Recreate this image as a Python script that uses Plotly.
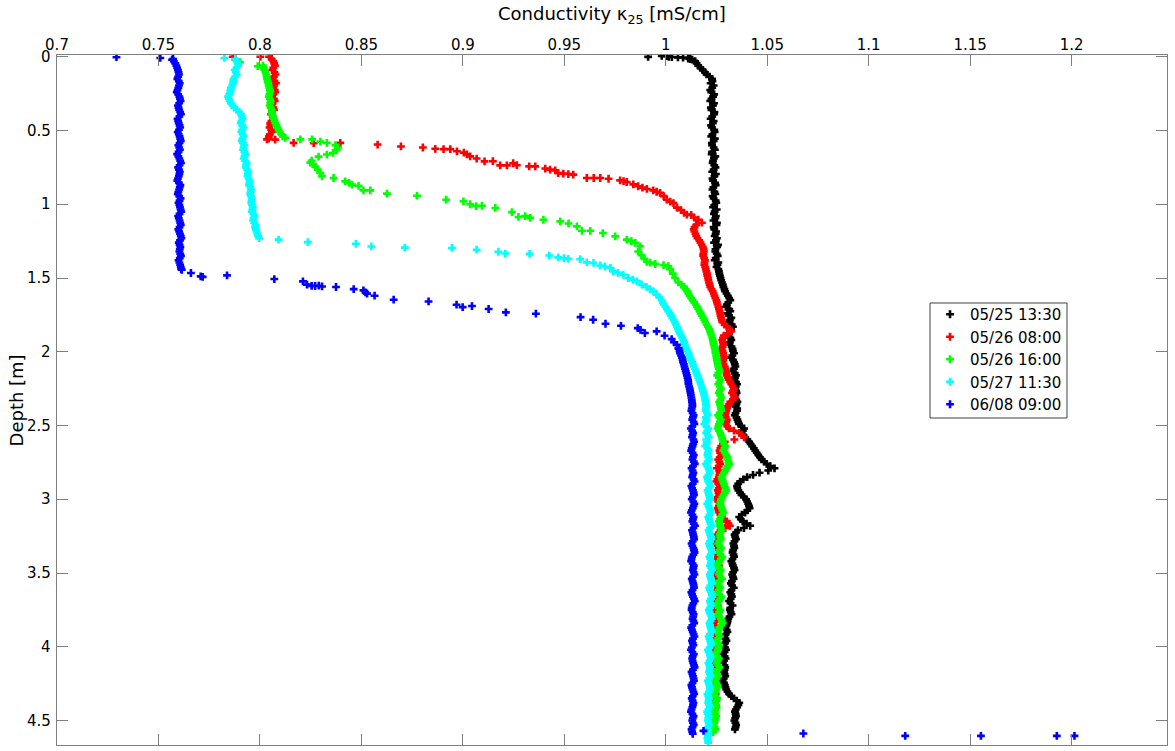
import plotly.graph_objects as go

# ---------------- data ----------------
series_names = ["05/25 13:30", "05/26 08:00", "05/26 16:00", "05/27 11:30", "06/08 09:00"]

# depth sampling [m] for the densely sampled parts of each profile
depth_grid = [
    0.00, 0.03, 0.06, 0.09, 0.12, 0.15, 0.18, 0.21, 0.24, 0.27,
    0.30, 0.33, 0.36, 0.39, 0.42, 0.45, 0.48, 0.51, 0.54, 0.57,
    0.60, 0.63, 0.66, 0.69, 0.72, 0.75, 0.78, 0.81, 0.84, 0.87,
    0.90, 0.93, 0.96, 0.99, 1.02, 1.05, 1.08, 1.11, 1.14, 1.17,
    1.20, 1.23, 1.26, 1.29, 1.32, 1.35, 1.38, 1.41, 1.44, 1.47,
    1.50, 1.53, 1.56, 1.59, 1.62, 1.65, 1.68, 1.71, 1.74, 1.77,
    1.80, 1.83, 1.86, 1.89, 1.92, 1.95, 1.98, 2.01, 2.04, 2.07,
    2.10, 2.13, 2.16, 2.19, 2.22, 2.25, 2.28, 2.31, 2.34, 2.37,
    2.40, 2.43, 2.46, 2.49, 2.52, 2.55, 2.58, 2.61, 2.64, 2.67,
    2.70, 2.73, 2.76, 2.79, 2.82, 2.85, 2.88, 2.91, 2.94, 2.97,
    3.00, 3.03, 3.06, 3.09, 3.12, 3.15, 3.18, 3.21, 3.24, 3.27,
    3.30, 3.33, 3.36, 3.39, 3.42, 3.45, 3.48, 3.51, 3.54, 3.57,
    3.60, 3.63, 3.66, 3.69, 3.72, 3.75, 3.78, 3.81, 3.84, 3.87,
    3.90, 3.93, 3.96, 3.99, 4.02, 4.05, 4.08, 4.11, 4.14, 4.17,
    4.20, 4.23, 4.26, 4.29, 4.32, 4.35, 4.38, 4.41, 4.44, 4.47,
    4.50, 4.53, 4.56, 4.59, 4.62, 4.65,
]
depth_grid_mid = [
    0.015, 0.045, 0.075, 0.105, 0.135, 0.165, 0.195, 0.225, 0.255, 0.285,
    0.315, 0.345, 0.375, 0.405, 0.435, 0.465, 0.495, 0.525, 0.555, 0.585,
    0.615, 0.645, 0.675, 0.705, 0.735, 0.765, 0.795, 0.825, 0.855, 0.885,
    0.915, 0.945, 0.975, 1.005, 1.035, 1.065, 1.095, 1.125, 1.155, 1.185,
    1.215, 1.245, 1.275, 1.305, 1.335, 1.365, 1.395, 1.425, 1.455, 1.485,
    1.515, 1.545, 1.575, 1.605, 1.635, 1.665, 1.695, 1.725, 1.755, 1.785,
    1.815, 1.845, 1.875, 1.905, 1.935, 1.965, 1.995, 2.025, 2.055, 2.085,
    2.115, 2.145, 2.175, 2.205, 2.235, 2.265, 2.295, 2.325, 2.355, 2.385,
    2.415, 2.445, 2.475, 2.505, 2.535, 2.565, 2.595, 2.625, 2.655, 2.685,
    2.715, 2.745, 2.775, 2.805, 2.835, 2.865, 2.895, 2.925, 2.955, 2.985,
    3.015, 3.045, 3.075, 3.105, 3.135, 3.165, 3.195, 3.225, 3.255, 3.285,
    3.315, 3.345, 3.375, 3.405, 3.435, 3.465, 3.495, 3.525, 3.555, 3.585,
    3.615, 3.645, 3.675, 3.705, 3.735, 3.765, 3.795, 3.825, 3.855, 3.885,
    3.915, 3.945, 3.975, 4.005, 4.035, 4.065, 4.095, 4.125, 4.155, 4.185,
    4.215, 4.245, 4.275, 4.305, 4.335, 4.365, 4.395, 4.425, 4.455, 4.485,
    4.515, 4.545, 4.575, 4.605, 4.635, 4.665,
]

N = None

# ---- 05/25 13:30 (black) ----
black_grid = [
    1.0015, 1.0145, 1.0160, 1.0182, 1.0201, 1.0228, 1.0221, 1.0229, 1.0224, 1.0233,
    1.0219, 1.0233, 1.0225, 1.0238, 1.0221, 1.0232, 1.0227, 1.0241, 1.0224, 1.0236,
    1.0228, 1.0242, 1.0226, 1.0237, 1.0231, 1.0245, 1.0229, 1.0240, 1.0233, 1.0246,
    1.0230, 1.0244, 1.0236, 1.0249, 1.0233, 1.0241, 1.0247, 1.0235, 1.0250, 1.0239,
    1.0246, 1.0252, 1.0238, 1.0253, 1.0244, 1.0256, 1.0241, 1.0255, 1.0259, 1.0264,
    1.0270, 1.0277, 1.0284, 1.0292, 1.0306, 1.0318, 1.0301, 1.0313, 1.0305, 1.0323,
    1.0314, 1.0331, 1.0318, 1.0310, 1.0323, 1.0314, 1.0329, 1.0336, 1.0322, 1.0337,
    1.0343, 1.0330, 1.0346, 1.0338, 1.0351, 1.0342, 1.0349, 1.0338, 1.0353, 1.0345,
    1.0351, 1.0340, 1.0353, 1.0361, 1.0386, 1.0374, 1.0391, 1.0411, 1.0426, 1.0441,
    1.0456, 1.0472, 1.0497, 1.0536, 1.0462, 1.0401, 1.0366, 1.0351, 1.0358, 1.0373,
    1.0396, 1.0406, 1.0413, 1.0391, 1.0362, 1.0379, 1.0416, 1.0356, 1.0339, 1.0346,
    1.0333, 1.0338, 1.0329, 1.0337, 1.0323, 1.0331, 1.0339, 1.0327, 1.0334, 1.0321,
    1.0335, 1.0318, 1.0326, 1.0312, 1.0329, 1.0316, 1.0324, 1.0308, 1.0303, 1.0294,
    1.0304, 1.0289, 1.0299, 1.0285, 1.0297, 1.0283, 1.0295, 1.0281, 1.0293, 1.0287,
    1.0293, 1.0280, 1.0291, 1.0298, 1.0312, 1.0336, 1.0362, 1.0352, 1.0341, 1.0346,
    1.0338, 1.0347, 1.0341, N, N, N,
]
black_grid_mid = [
    1.0120, 1.0152, 1.0171, 1.0193, 1.0216, 1.0230, 1.0236, 1.0219, 1.0238, 1.0225,
    1.0238, 1.0222, 1.0240, 1.0229, 1.0236, 1.0223, 1.0239, 1.0230, 1.0242, 1.0227,
    1.0236, 1.0228, 1.0244, 1.0233, 1.0239, 1.0236, 1.0247, 1.0230, 1.0243, 1.0235,
    1.0240, 1.0231, 1.0246, 1.0239, 1.0251, 1.0237, 1.0244, 1.0252, 1.0236, 1.0248,
    1.0241, 1.0247, 1.0258, 1.0245, 1.0251, 1.0246, 1.0259, 1.0250, 1.0262, 1.0267,
    1.0273, 1.0281, 1.0289, 1.0299, 1.0312, 1.0308, 1.0296, 1.0318, 1.0311, 1.0316,
    1.0325, 1.0322, 1.0312, 1.0318, 1.0316, 1.0324, 1.0331, 1.0328, 1.0331, 1.0340,
    1.0336, 1.0340, 1.0341, 1.0346, 1.0345, 1.0347, 1.0343, 1.0347, 1.0348, 1.0352,
    1.0344, 1.0348, 1.0357, 1.0372, 1.0380, 1.0383, 1.0402, 1.0418, 1.0434, 1.0448,
    1.0464, 1.0485, 1.0515, 1.0505, 1.0430, 1.0382, 1.0357, 1.0353, 1.0366, 1.0385,
    1.0401, 1.0410, 1.0402, 1.0375, 1.0370, 1.0398, 1.0385, 1.0346, 1.0342, 1.0339,
    1.0336, 1.0332, 1.0334, 1.0329, 1.0328, 1.0336, 1.0332, 1.0331, 1.0326, 1.0327,
    1.0324, 1.0323, 1.0320, 1.0319, 1.0318, 1.0320, 1.0314, 1.0305, 1.0299, 1.0300,
    1.0296, 1.0294, 1.0292, 1.0292, 1.0290, 1.0290, 1.0287, 1.0289, 1.0290, 1.0290,
    1.0286, 1.0287, 1.0294, 1.0304, 1.0323, 1.0350, 1.0358, 1.0345, 1.0344, 1.0342,
    1.0343, 1.0344, N, N, N, N,
]
black_extra_depth = [0.001, -0.006, -0.004, 0.002, 0.004, 0.006, 0.012, 0.020]
black_extra_kappa = [0.9913, 0.9980, 1.0005, 1.0030, 1.0060, 1.0085, 1.0110, 1.0130]

# ---- 05/26 08:00 (red) ----
red_grid = [
    0.8045, 0.8066, 0.8074, 0.8061, 0.8077, 0.8063, 0.8079, 0.8065, 0.8075, 0.8060,
    0.8073, 0.8058, 0.8069, 0.8055, 0.8066, 0.8051, 0.8047, 0.8059, 0.8044, N,
    N, N, N, N, N, N, N, N, N, N,
    N, N, N, N, N, N, N, N, 1.0150, 1.0138,
    1.0146, 1.0156, 1.0171, 1.0183, 1.0188, 1.0184, 1.0193, 1.0190, 1.0197, 1.0203,
    1.0208, 1.0213, 1.0219, 1.0231, 1.0240, 1.0249, 1.0255, 1.0262, 1.0268, 1.0273,
    1.0279, 1.0301, 1.0323, 1.0286, 1.0278, 1.0284, 1.0276, 1.0283, 1.0287, 1.0280,
    1.0291, 1.0297, 1.0301, 1.0311, 1.0323, 1.0336, 1.0326, 1.0341, 1.0318, 1.0306,
    1.0298, 1.0292, 1.0301, 1.0295, 1.0311, 1.0362, 1.0386, 1.0291, 1.0273, 1.0265,
    1.0274, 1.0258, 1.0269, 1.0252, 1.0266, 1.0261, 1.0249, 1.0267, 1.0256, 1.0263,
    1.0250, 1.0266, 1.0257, 1.0263, 1.0275, 1.0301, 1.0316, 1.0270, 1.0255, 1.0262,
    1.0249, 1.0260, 1.0243, 1.0257, 1.0251, 1.0262, 1.0246, 1.0255, 1.0240, 1.0253,
    1.0258, 1.0244, 1.0252, 1.0238, 1.0256, 1.0247, 1.0241, 1.0254, 1.0236, 1.0249,
    1.0243, 1.0255, 1.0238, 1.0250, 1.0244, 1.0235, 1.0252, 1.0241, 1.0247, 1.0233,
    1.0249, 1.0238, 1.0244, 1.0231, 1.0246, 1.0240, 1.0235, 1.0248, 1.0232, 1.0241,
    1.0236, 1.0229, N, N, N, N,
]
red_grid_mid = [
    0.8058, 0.8070, 0.8066, 0.8072, 0.8069, 0.8072, 0.8070, 0.8073, 0.8066, 0.8069,
    0.8063, 0.8066, 0.8060, 0.8063, 0.8057, 0.8052, 0.8055, 0.8049, 0.8043, N,
    N, N, N, N, N, N, N, N, N, N,
    N, N, N, N, N, N, N, N, 1.0142, 1.0141,
    1.0150, 1.0165, 1.0177, 1.0186, 1.0185, 1.0189, 1.0191, 1.0194, 1.0200, 1.0205,
    1.0210, 1.0216, 1.0225, 1.0236, 1.0244, 1.0252, 1.0259, 1.0265, 1.0270, 1.0276,
    1.0290, 1.0314, 1.0305, 1.0282, 1.0281, 1.0280, 1.0280, 1.0285, 1.0283, 1.0285,
    1.0294, 1.0299, 1.0306, 1.0317, 1.0330, 1.0331, 1.0334, 1.0330, 1.0312, 1.0302,
    1.0295, 1.0296, 1.0298, 1.0303, 1.0336, 1.0375, 1.0338, 1.0282, 1.0269, 1.0268,
    1.0266, 1.0264, 1.0261, 1.0263, 1.0264, 1.0254, 1.0258, 1.0262, 1.0260, 1.0256,
    1.0258, 1.0262, 1.0260, 1.0269, 1.0288, 1.0309, 1.0293, 1.0262, 1.0258, 1.0255,
    1.0254, 1.0251, 1.0250, 1.0254, 1.0256, 1.0254, 1.0250, 1.0248, 1.0246, 1.0256,
    1.0251, 1.0248, 1.0245, 1.0247, 1.0251, 1.0244, 1.0247, 1.0245, 1.0242, 1.0246,
    1.0249, 1.0246, 1.0244, 1.0247, 1.0240, 1.0243, 1.0247, 1.0244, 1.0240, 1.0241,
    1.0243, 1.0241, 1.0237, 1.0239, 1.0243, 1.0237, 1.0241, 1.0240, 1.0236, 1.0238,
    1.0233, N, N, N, N, N,
]
red_extra_depth = [
    0.000, 0.000, 0.560, 0.562,
    0.584, 0.586, 0.584, 0.595, 0.608, 0.615, 0.624, 0.626, 0.626, 0.641,
    0.650, 0.662, 0.675, 0.690, 0.709, 0.708, 0.736, 0.736, 0.722, 0.735,
    0.743, 0.743, 0.758, 0.765, 0.770, 0.788, 0.792, 0.795, 0.799, 0.822,
    0.822, 0.822, 0.827, 0.838, 0.843, 0.849, 0.865, 0.878, 0.887, 0.896,
    0.906, 0.915, 0.923, 0.945, 0.969, 0.982, 0.992, 1.023, 1.040, 1.058,
    1.070, 1.072, 1.090, 1.105, 1.125,
]
red_extra_kappa = [
    0.7866, 0.8002, 0.8035, 0.8075,
    0.8166, 0.8265, 0.8396, 0.8580, 0.8695, 0.8803, 0.8864, 0.8905, 0.8938, 0.8971,
    0.9005, 0.9020, 0.9036, 0.9068, 0.9107, 0.9148, 0.9184, 0.9217, 0.9248, 0.9266,
    0.9327, 0.9357, 0.9406, 0.9430, 0.9455, 0.9470, 0.9495, 0.9520, 0.9544, 0.9611,
    0.9645, 0.9677, 0.9718, 0.9775, 0.9792, 0.9808, 0.9840, 0.9864, 0.9885, 0.9907,
    0.9938, 0.9955, 0.9972, 0.9990, 1.0005, 1.0022, 1.0038, 1.0055, 1.0075, 1.0090,
    1.0104, 1.0125, 1.0140, 1.0160, 1.0178,
]

# ---- 05/26 16:00 (green) ----
green_grid = [
    N, N, 0.8015, 0.8022, 0.8031, 0.8035, 0.8041, 0.8046, 0.8051, 0.8044,
    0.8053, 0.8048, 0.8058, 0.8061, 0.8068, 0.8076, 0.8087, 0.8098, 0.8112, N,
    N, N, N, N, N, N, N, N, N, N,
    N, N, N, N, N, N, N, N, N, N,
    N, N, N, N, N, N, N, N, N, N,
    N, N, 1.0090, 1.0105, 1.0118, 1.0132, 1.0148, 1.0160, 1.0172, 1.0185,
    1.0195, 1.0208, 1.0218, 1.0225, 1.0232, 1.0236, 1.0242, 1.0245, 1.0250, 1.0254,
    1.0258, 1.0266, 1.0253, 1.0270, 1.0259, 1.0272, 1.0261, 1.0275, 1.0263, 1.0270,
    1.0274, 1.0258, 1.0271, 1.0262, 1.0255, 1.0268, 1.0276, 1.0282, 1.0294, 1.0284,
    1.0298, 1.0305, 1.0312, 1.0300, 1.0288, 1.0275, 1.0282, 1.0290, 1.0298, 1.0285,
    1.0272, 1.0268, 1.0276, 1.0285, 1.0270, 1.0262, 1.0268, 1.0275, 1.0266, 1.0271,
    1.0258, 1.0273, 1.0261, 1.0279, 1.0266, 1.0254, 1.0271, 1.0262, 1.0277, 1.0256,
    1.0268, 1.0253, 1.0275, 1.0262, 1.0250, 1.0269, 1.0257, 1.0272, 1.0281, 1.0264,
    1.0255, 1.0267, 1.0250, 1.0263, 1.0257, 1.0246, 1.0262, 1.0251, 1.0265, 1.0248,
    1.0258, 1.0243, 1.0255, 1.0249, 1.0238, 1.0254, 1.0245, 1.0251, 1.0240, 1.0248,
    1.0242, 1.0236, 1.0244, N, N, N,
]
green_grid_mid = [
    N, N, 0.8018, 0.8027, 0.8033, 0.8038, 0.8043, 0.8049, 0.8047, 0.8049,
    0.8051, 0.8053, 0.8059, 0.8065, 0.8072, 0.8081, 0.8092, 0.8105, N, N,
    N, N, N, N, N, N, N, N, N, N,
    N, N, N, N, N, N, N, N, N, N,
    N, N, N, N, N, N, N, N, N, N,
    N, 1.0077, 1.0098, 1.0111, 1.0125, 1.0140, 1.0154, 1.0166, 1.0178, 1.0190,
    1.0201, 1.0213, 1.0221, 1.0229, 1.0234, 1.0239, 1.0244, 1.0248, 1.0252, 1.0256,
    1.0262, 1.0259, 1.0262, 1.0264, 1.0266, 1.0266, 1.0268, 1.0269, 1.0267, 1.0272,
    1.0265, 1.0264, 1.0267, 1.0259, 1.0262, 1.0272, 1.0279, 1.0288, 1.0289, 1.0291,
    1.0302, 1.0309, 1.0306, 1.0294, 1.0281, 1.0278, 1.0286, 1.0294, 1.0291, 1.0279,
    1.0270, 1.0272, 1.0280, 1.0278, 1.0266, 1.0265, 1.0271, 1.0270, 1.0268, 1.0264,
    1.0266, 1.0267, 1.0270, 1.0272, 1.0260, 1.0263, 1.0266, 1.0270, 1.0266, 1.0262,
    1.0261, 1.0264, 1.0269, 1.0256, 1.0260, 1.0263, 1.0265, 1.0276, 1.0273, 1.0260,
    1.0261, 1.0258, 1.0257, 1.0260, 1.0251, 1.0254, 1.0256, 1.0258, 1.0256, 1.0253,
    1.0250, 1.0249, 1.0252, 1.0243, 1.0246, 1.0250, 1.0248, 1.0245, 1.0244, 1.0245,
    1.0239, 1.0240, N, N, N, N,
]
green_extra_depth = [
    0.037, 0.064, 0.550, 0.560, 0.560, 0.575, 0.584, 0.600, 0.615, 0.632,
    0.652, 0.663, 0.677, 0.705, 0.718, 0.730, 0.745, 0.765, 0.790, 0.810,
    0.822, 0.845, 0.855, 0.867, 0.875, 0.906, 0.906, 0.928, 0.942, 0.969,
    0.980, 1.000, 1.012, 1.010, 1.025, 1.053, 1.086, 1.080, 1.092, 1.105,
    1.116, 1.130, 1.150, 1.180, 1.180, 1.195, 1.218, 1.240, 1.250, 1.262,
    1.285, 1.320, 1.345, 1.370, 1.390, 1.395, 1.405, 1.412, 1.420, 1.440,
    1.470, 1.500, 1.530, 4.580,
]
green_extra_kappa = [
    0.7903, 0.7989, 0.8125, 0.8199, 0.8257, 0.8298, 0.8330, 0.8372, 0.8386, 0.8378,
    0.8360, 0.8330, 0.8289, 0.8255, 0.8248, 0.8262, 0.8273, 0.8285, 0.8298, 0.8306,
    0.8363, 0.8420, 0.8440, 0.8454, 0.8486, 0.8510, 0.8544, 0.8626, 0.8774, 0.8918,
    0.9003, 0.9036, 0.9065, 0.9094, 0.9160, 0.9242, 0.9274, 0.9307, 0.9332, 0.9397,
    0.9480, 0.9521, 0.9562, 0.9587, 0.9628, 0.9690, 0.9751, 0.9808, 0.9830, 0.9850,
    0.9874, 0.9864, 0.9880, 0.9895, 0.9907, 0.9923, 0.9948, 0.9989, 1.0013, 1.0021,
    1.0035, 1.0046, 1.0062, 1.0234,
]

# ---- 05/27 11:30 (cyan) ----
cyan_grid = [
    N, 0.7885, 0.7893, 0.7876, 0.7886, 0.7870, 0.7868, 0.7857, 0.7854, 0.7843,
    0.7851, 0.7865, 0.7886, 0.7907, 0.7914, 0.7905, 0.7918, 0.7908, 0.7920, 0.7910,
    0.7922, 0.7917, 0.7929, 0.7920, 0.7934, 0.7930, 0.7942, 0.7939, 0.7949, 0.7946,
    0.7956, 0.7952, 0.7960, 0.7957, 0.7965, 0.7961, 0.7973, 0.7966, 0.7978, 0.7979,
    0.7987, 0.7996, N, N, N, N, N, N, N, N,
    N, N, N, N, N, N, 0.9990, 1.0005, 1.0020, 1.0032,
    1.0045, 1.0055, 1.0064, 1.0075, 1.0086, 1.0094, 1.0102, 1.0112, 1.0120, 1.0130,
    1.0137, 1.0148, 1.0155, 1.0165, 1.0172, 1.0180, 1.0186, 1.0192, 1.0196, 1.0200,
    1.0196, 1.0207, 1.0201, 1.0190, 1.0209, 1.0199, 1.0212, 1.0203, 1.0194, 1.0211,
    1.0205, 1.0214, 1.0198, 1.0210, 1.0217, 1.0203, 1.0209, 1.0220, 1.0206, 1.0213,
    1.0218, 1.0204, 1.0215, 1.0222, 1.0209, 1.0216, 1.0226, 1.0211, 1.0219, 1.0225,
    1.0213, 1.0221, 1.0228, 1.0215, 1.0224, 1.0218, 1.0229, 1.0216, 1.0223, 1.0227,
    1.0214, 1.0222, 1.0230, 1.0217, 1.0224, 1.0212, 1.0220, 1.0227, 1.0215, 1.0221,
    1.0226, 1.0211, 1.0219, 1.0224, 1.0208, 1.0217, 1.0222, 1.0210, 1.0218, 1.0213,
    1.0221, 1.0207, 1.0215, 1.0219, 1.0205, 1.0213, 1.0209, 1.0217, 1.0204, 1.0212,
    1.0207, 1.0214, 1.0203, 1.0210, 1.0205, 1.0209,
]
cyan_grid_mid = [
    0.7878, 0.7889, 0.7884, 0.7881, 0.7877, 0.7869, 0.7863, 0.7855, 0.7849, 0.7847,
    0.7857, 0.7874, 0.7897, 0.7910, 0.7909, 0.7913, 0.7912, 0.7915, 0.7914, 0.7916,
    0.7920, 0.7923, 0.7924, 0.7927, 0.7932, 0.7937, 0.7940, 0.7944, 0.7948, 0.7953,
    0.7954, 0.7956, 0.7959, 0.7961, 0.7963, 0.7968, 0.7969, 0.7972, 0.7976, 0.7983,
    0.7991, N, N, N, N, N, N, N, N, N,
    N, N, N, N, N, 0.9985, 0.9998, 1.0012, 1.0026, 1.0039,
    1.0050, 1.0060, 1.0070, 1.0081, 1.0090, 1.0098, 1.0107, 1.0116, 1.0125, 1.0134,
    1.0143, 1.0151, 1.0160, 1.0169, 1.0176, 1.0183, 1.0189, 1.0194, 1.0198, 1.0197,
    1.0203, 1.0198, 1.0196, 1.0200, 1.0205, 1.0206, 1.0199, 1.0201, 1.0205, 1.0207,
    1.0209, 1.0206, 1.0204, 1.0214, 1.0210, 1.0207, 1.0215, 1.0212, 1.0210, 1.0216,
    1.0211, 1.0210, 1.0219, 1.0216, 1.0213, 1.0221, 1.0218, 1.0215, 1.0223, 1.0218,
    1.0217, 1.0225, 1.0221, 1.0219, 1.0222, 1.0224, 1.0222, 1.0219, 1.0226, 1.0220,
    1.0218, 1.0227, 1.0223, 1.0220, 1.0218, 1.0216, 1.0224, 1.0221, 1.0218, 1.0224,
    1.0218, 1.0215, 1.0222, 1.0216, 1.0212, 1.0220, 1.0216, 1.0214, 1.0216, 1.0217,
    1.0214, 1.0211, 1.0217, 1.0212, 1.0209, 1.0211, 1.0213, 1.0210, 1.0208, 1.0209,
    1.0211, 1.0208, 1.0207, 1.0208, 1.0208, N,
]
cyan_extra_depth = [
    0.008, 1.240, 1.256, 1.268, 1.286, 1.294, 1.296, 1.308, 1.322, 1.334,
    1.336, 1.347, 1.360, 1.366, 1.370, 1.372, 1.394, 1.398, 1.415, 1.422,
    1.432, 1.455, 1.465, 1.478, 1.500, 1.512, 1.523, 1.545, 1.560, 1.575,
    1.590, 1.613, 1.630, 1.650,
]
cyan_extra_kappa = [
    0.7825, 0.8092, 0.8236, 0.8473, 0.8549, 0.8714, 0.8946, 0.9068, 0.9175, 0.9209,
    0.9329, 0.9426, 0.9470, 0.9498, 0.9520, 0.9578, 0.9611, 0.9644, 0.9677, 0.9700,
    0.9727, 0.9741, 0.9765, 0.9791, 0.9815, 0.9838, 0.9858, 0.9882, 0.9905, 0.9922,
    0.9939, 0.9956, 0.9968, 0.9980,
]

# ---- 06/08 09:00 (blue) ----
blue_grid = [
    N, 0.7576, 0.7588, 0.7596, 0.7601, 0.7593, 0.7605, 0.7598, 0.7590, 0.7603,
    0.7609, 0.7596, 0.7602, 0.7611, 0.7594, 0.7600, 0.7607, 0.7595, 0.7604, 0.7610,
    0.7598, 0.7606, 0.7592, 0.7603, 0.7611, 0.7597, 0.7605, 0.7600, 0.7593, 0.7608,
    0.7602, 0.7595, 0.7609, 0.7599, 0.7606, 0.7612, 0.7597, 0.7604, 0.7610, 0.7598,
    0.7606, 0.7613, 0.7600, 0.7608, 0.7603, 0.7611, 0.7599, 0.7607, 0.7612, N,
    N, N, N, N, N, N, N, N, N, N,
    N, N, N, N, N, N, 1.0064, 1.0070, 1.0080, 1.0085,
    1.0092, 1.0098, 1.0104, 1.0110, 1.0112, 1.0118, 1.0122, 1.0126, 1.0129, 1.0131,
    1.0126, 1.0137, 1.0130, 1.0141, 1.0124, 1.0135, 1.0129, 1.0140, 1.0132, 1.0125,
    1.0138, 1.0131, 1.0143, 1.0127, 1.0136, 1.0130, 1.0142, 1.0126, 1.0134, 1.0139,
    1.0128, 1.0141, 1.0133, 1.0124, 1.0137, 1.0131, 1.0144, 1.0129, 1.0135, 1.0140,
    1.0127, 1.0136, 1.0142, 1.0130, 1.0125, 1.0138, 1.0133, 1.0141, 1.0128, 1.0135,
    1.0139, 1.0126, 1.0134, 1.0143, 1.0131, 1.0127, 1.0137, 1.0132, 1.0140, 1.0125,
    1.0133, 1.0141, 1.0129, 1.0136, 1.0124, 1.0138, 1.0130, 1.0135, 1.0142, 1.0127,
    1.0134, 1.0139, 1.0126, 1.0132, 1.0140, 1.0128, 1.0136, 1.0131, 1.0124, 1.0137,
    1.0130, 1.0138, 1.0127, 1.0133, N, N,
]
blue_grid_mid = [
    0.7572, 0.7583, 0.7592, 0.7599, 0.7597, 0.7600, 0.7601, 0.7594, 0.7597, 0.7606,
    0.7602, 0.7599, 0.7607, 0.7603, 0.7597, 0.7604, 0.7601, 0.7600, 0.7607, 0.7604,
    0.7602, 0.7599, 0.7598, 0.7607, 0.7604, 0.7601, 0.7603, 0.7596, 0.7601, 0.7605,
    0.7598, 0.7602, 0.7604, 0.7603, 0.7609, 0.7604, 0.7600, 0.7607, 0.7604, 0.7602,
    0.7610, 0.7606, 0.7604, 0.7605, 0.7607, 0.7605, 0.7603, 0.7610, N, N,
    N, N, N, N, N, N, N, N, N, N,
    N, N, N, N, N, N, 1.0068, 1.0075, 1.0083, 1.0089,
    1.0095, 1.0101, 1.0107, 1.0111, 1.0115, 1.0120, 1.0124, 1.0128, 1.0131, 1.0128,
    1.0132, 1.0134, 1.0137, 1.0131, 1.0130, 1.0132, 1.0136, 1.0135, 1.0128, 1.0132,
    1.0134, 1.0138, 1.0134, 1.0132, 1.0133, 1.0137, 1.0133, 1.0130, 1.0137, 1.0133,
    1.0135, 1.0137, 1.0128, 1.0131, 1.0134, 1.0138, 1.0136, 1.0133, 1.0138, 1.0133,
    1.0131, 1.0139, 1.0136, 1.0127, 1.0132, 1.0136, 1.0137, 1.0134, 1.0132, 1.0138,
    1.0132, 1.0130, 1.0139, 1.0136, 1.0128, 1.0133, 1.0135, 1.0136, 1.0131, 1.0129,
    1.0137, 1.0134, 1.0133, 1.0129, 1.0131, 1.0133, 1.0132, 1.0139, 1.0134, 1.0131,
    1.0137, 1.0132, 1.0129, 1.0136, 1.0133, 1.0132, 1.0134, 1.0127, 1.0131, 1.0133,
    1.0134, 1.0132, 1.0130, N, N, N,
]
blue_extra_depth = [
    0.003, 0.008, 0.020,
    1.444, 1.466, 1.489, 1.492, 1.482, 1.507, 1.523, 1.545, 1.553, 1.554, 1.552,
    1.557, 1.561, 1.575, 1.584, 1.598, 1.606, 1.620, 1.647, 1.659, 1.681,
    1.697, 1.690, 1.710, 1.733, 1.742, 1.765, 1.783, 1.810, 1.824, 1.840,
    1.852, 1.873, 1.862, 1.891, 1.914, 1.935, 1.953, 1.975,
    4.570, 4.588, 4.604, 4.604, 4.604, 4.604,
]
blue_extra_kappa = [
    0.7293, 0.7509, 0.7567,
    0.7615, 0.7660, 0.7708, 0.7718, 0.7838, 0.8071, 0.8212, 0.8232, 0.8255, 0.8272, 0.8290,
    0.8306, 0.8375, 0.8462, 0.8510, 0.8520, 0.8528, 0.8565, 0.8659, 0.8831, 0.8969,
    0.8999, 0.9045, 0.9127, 0.9212, 0.9360, 0.9580, 0.9642, 0.9703, 0.9779, 0.9862,
    0.9875, 0.9897, 0.9955, 0.9994, 1.0029, 1.0040, 1.0055, 1.0062,
    1.0186, 1.0678, 1.1180, 1.1553, 1.1927, 1.2014,
]

series_colors = ["#000000", "#ff0000", "#00ff00", "#00ffff", "#0000ff"]

x_ticks = [0.7, 0.75, 0.8, 0.85, 0.9, 0.95, 1.0, 1.05, 1.1, 1.15, 1.2]
y_ticks = [0, 0.5, 1, 1.5, 2, 2.5, 3, 3.5, 4, 4.5]

# ---------------- figure ----------------
grids = [black_grid, red_grid, green_grid, cyan_grid, blue_grid]
grids_mid = [black_grid_mid, red_grid_mid, green_grid_mid, cyan_grid_mid, blue_grid_mid]
extras = [
    (black_extra_depth, black_extra_kappa),
    (red_extra_depth, red_extra_kappa),
    (green_extra_depth, green_extra_kappa),
    (cyan_extra_depth, cyan_extra_kappa),
    (blue_extra_depth, blue_extra_kappa),
]

FONT = "DejaVu Sans"
AXIS_GRAY = "#7f7f7f"
X0, X1 = 0.7, 1.247
Y_TOP, Y_BOT = -0.012, 4.666

fig = go.Figure()
for name, color, grid, gmid, (ed, ek) in zip(series_names, series_colors, grids, grids_mid, extras):
    xs, ys = [], []
    for d, k in zip(depth_grid, grid):
        if k is not None:
            xs.append(k)
            ys.append(d)
    for d, k in zip(depth_grid_mid, gmid):
        if k is not None:
            xs.append(k)
            ys.append(d)
    xs += list(ek)
    ys += list(ed)
    fig.add_trace(go.Scatter(
        x=xs, y=ys, mode="markers", name=name,
        marker=dict(symbol="cross", size=6.5, color=color, line=dict(width=0)),
    ))

# y tick labels placed just left of the axis, right aligned (MATLAB style)
y_label_annotations = [
    dict(text="%g" % v, xref="paper", yref="y", x=-0.0036, y=v,
         xanchor="right", yanchor="middle", showarrow=False,
         font=dict(family=FONT, size=15, color="black"))
    for v in y_ticks
]

fig.update_layout(
    width=1175, height=751, autosize=False,
    margin=dict(l=57, r=8, t=55, b=6, pad=0),
    paper_bgcolor="white", plot_bgcolor="white",
    font=dict(family=FONT, size=15, color="black"),
    showlegend=True,
    legend=dict(
        x=0.7865, y=0.6478, xanchor="left", yanchor="top",
        bgcolor="rgba(0,0,0,0)", borderwidth=0,
        font=dict(family=FONT, size=15, color="black"),
        tracegroupgap=0, itemsizing="trace",
    ),
    shapes=[
        dict(type="rect", xref="paper", yref="paper",
             x0=0.7865, x1=0.9099, y0=0.4739, y1=0.6406,
             line=dict(color="#404040", width=1), fillcolor="white", layer="above"),
    ],
    xaxis=dict(
        side="top", range=[X0, X1], tickvals=x_ticks,
        ticktext=[("%g" % v) for v in x_ticks],
        ticks="inside", ticklen=11, tickcolor=AXIS_GRAY, tickwidth=1,
        showline=True, linecolor=AXIS_GRAY, linewidth=1, mirror="ticks",
        showgrid=False, zeroline=False, ticklabelstandoff=-2,
        tickfont=dict(family=FONT, size=15, color="black"),
    ),
    yaxis=dict(
        range=[Y_BOT, Y_TOP], tickvals=y_ticks, showticklabels=False,
        ticks="inside", ticklen=11, tickcolor=AXIS_GRAY, tickwidth=1,
        showline=True, linecolor=AXIS_GRAY, linewidth=1, mirror="ticks",
        showgrid=False, zeroline=False,
    ),
    annotations=y_label_annotations + [
        dict(text="Conductivity κ<sub>25</sub> [mS/cm]", xref="paper", yref="paper",
             x=0.5, y=1.058, xanchor="center", yanchor="middle", showarrow=False,
             font=dict(family=FONT, size=18, color="black")),
        dict(text="Depth [m]", xref="paper", yref="paper", textangle=-90,
             x=-0.0365, y=0.5, xanchor="center", yanchor="middle", showarrow=False,
             font=dict(family=FONT, size=18, color="black")),
    ],
)

fig.write_html("out.html")
